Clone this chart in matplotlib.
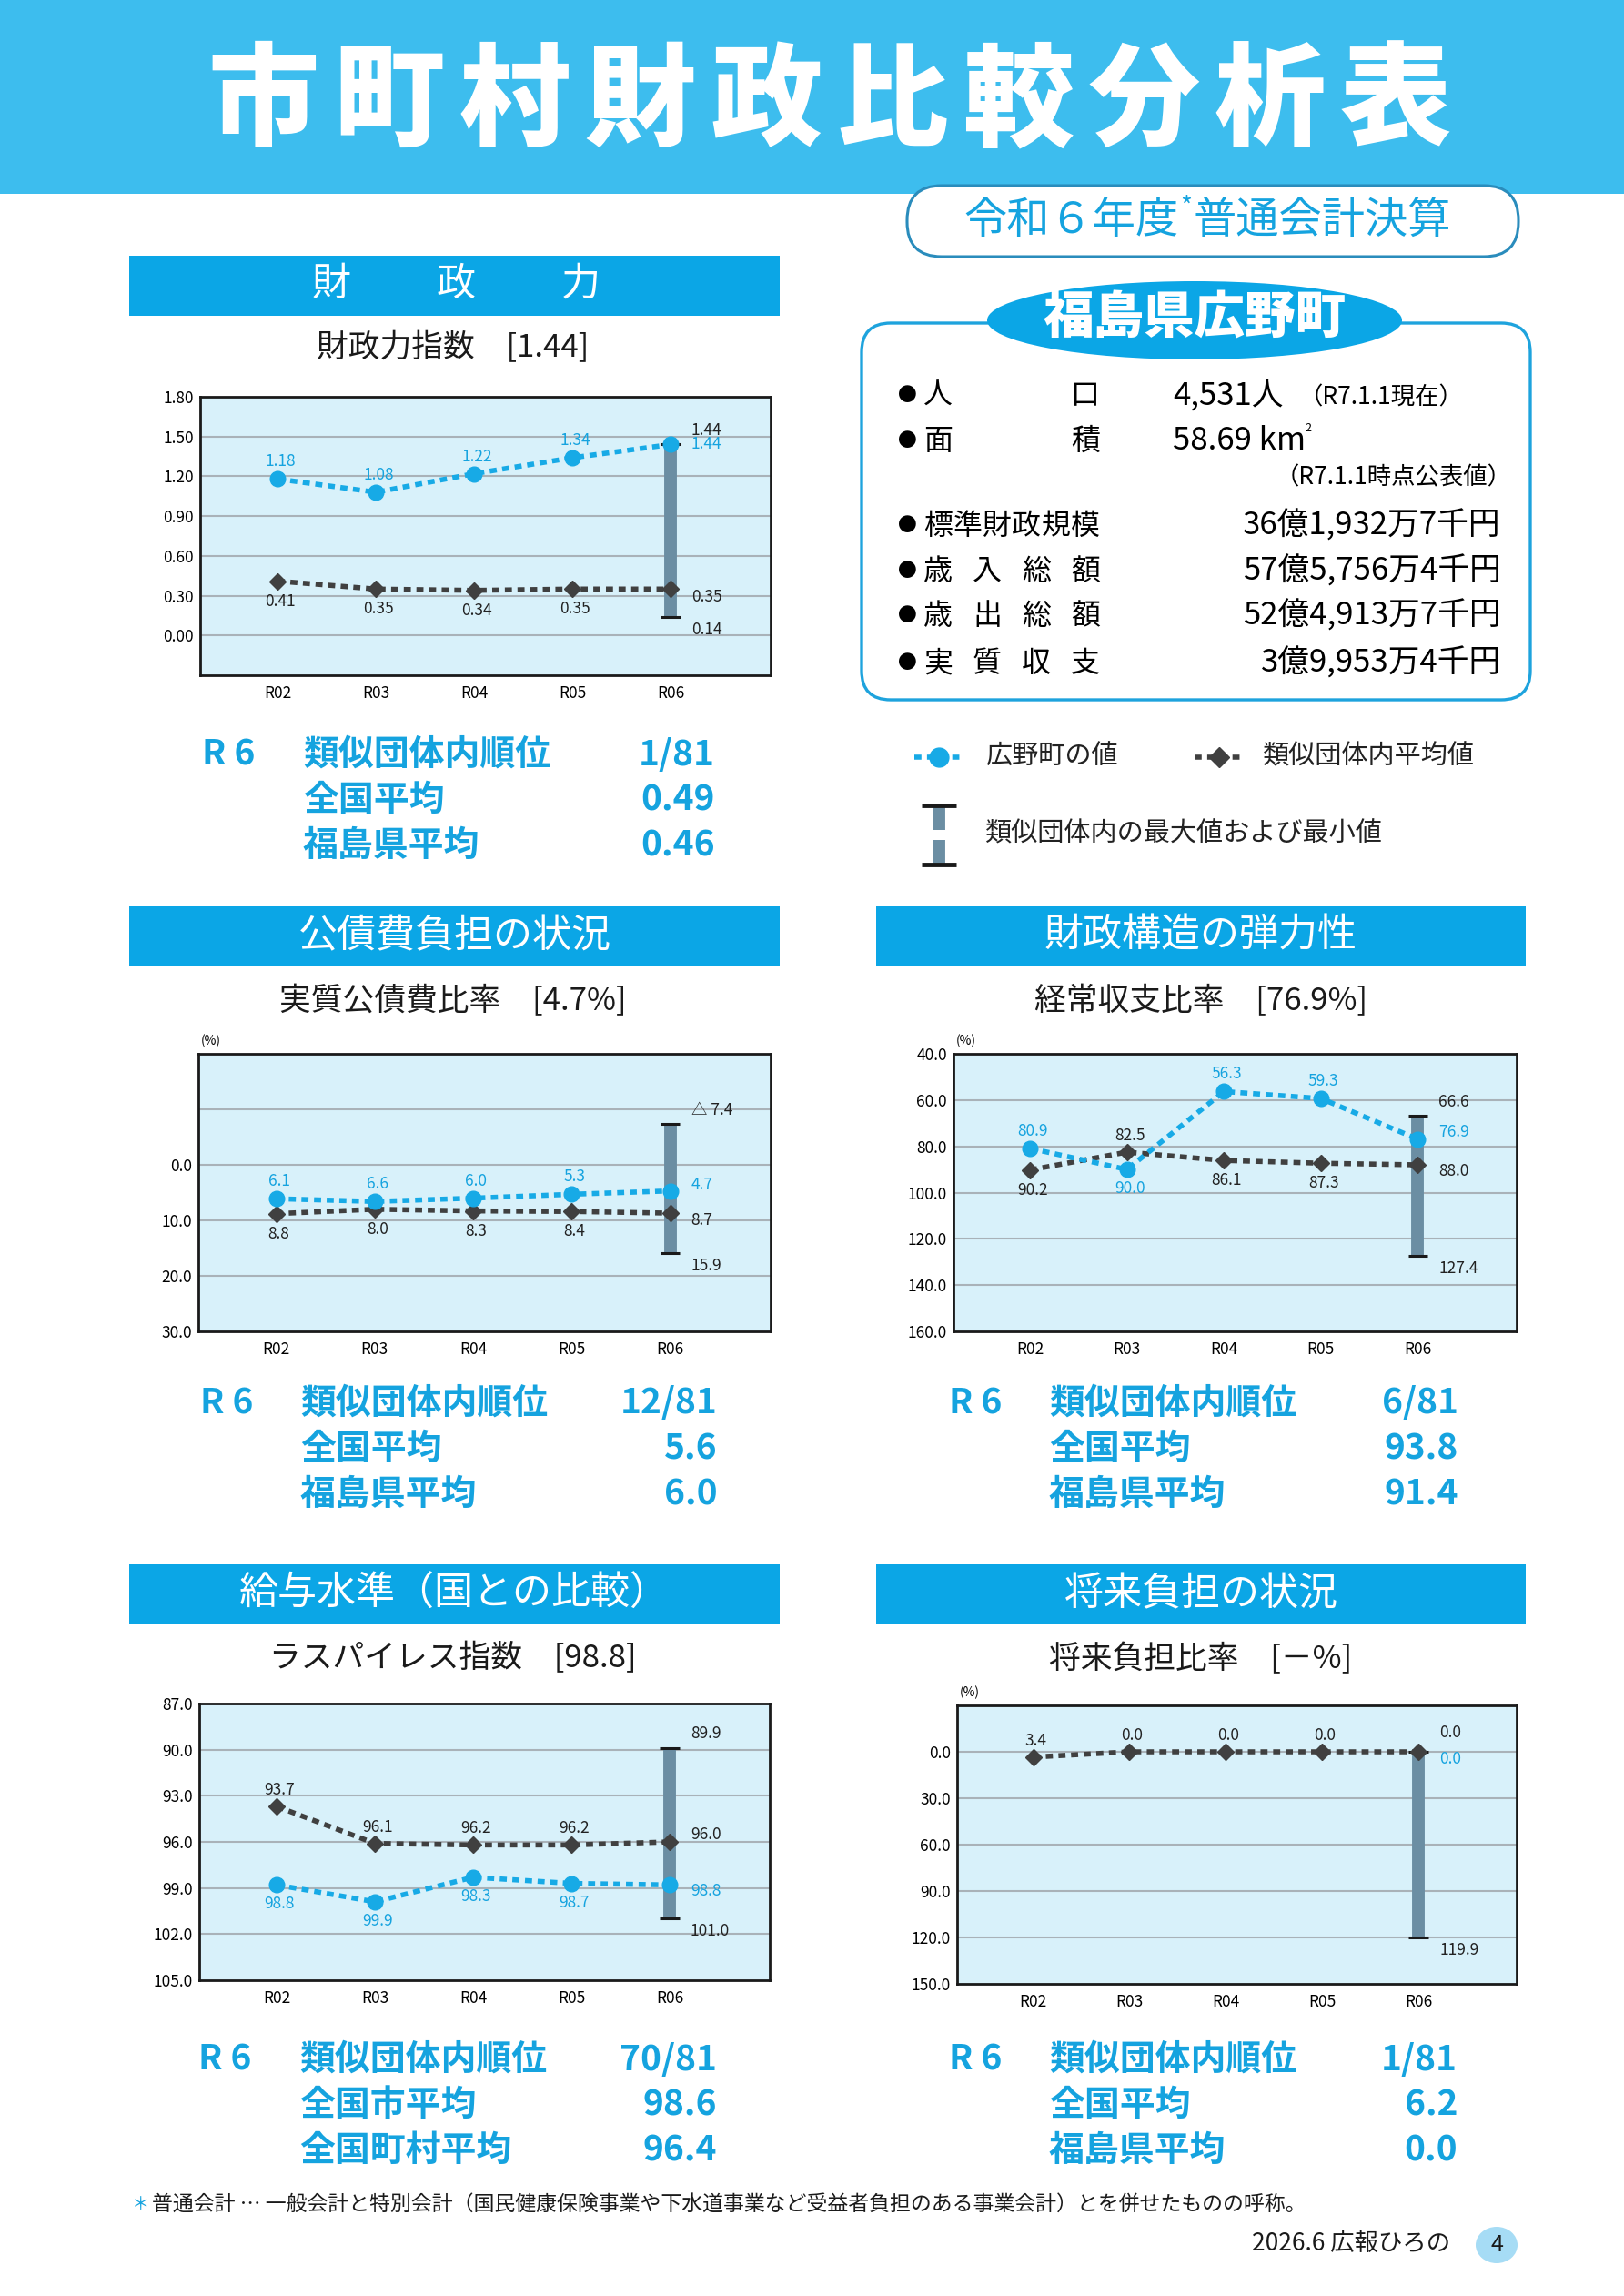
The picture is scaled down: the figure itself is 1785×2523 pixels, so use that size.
#!/usr/bin/env python

import numpy as np
import matplotlib
matplotlib.use('Agg')
from matplotlib import patches as mpatches
from matplotlib import pyplot as plt

plt.rcParams['font.family'] = ['Noto Sans CJK JP', 'DejaVu Sans']

W, H = 1785, 2523
PT = 72 / 100.0

BAND = '#3dbdee'
HEAD = '#0ba6e6'
BLUE = '#17aae6'
TBLUE = '#15a3df'
DARK = '#404040'
BAR = '#6b8ea3'
AXBG = '#d8f1fa'
GRID = '#a9b2b8'

years = ['R02', 'R03', 'R04', 'R05', 'R06']

# 財政力指数
fp_town = [1.18, 1.08, 1.22, 1.34, 1.44]
fp_avg = [0.41, 0.35, 0.34, 0.35, 0.35]
fp_range = [1.44, 0.14]

# 実質公債費比率
debt_town = [6.1, 6.6, 6.0, 5.3, 4.7]
debt_avg = [8.8, 8.0, 8.3, 8.4, 8.7]
debt_range = [-7.4, 15.9]

# 経常収支比率
cur_town = [80.9, 90.0, 56.3, 59.3, 76.9]
cur_avg = [90.2, 82.5, 86.1, 87.3, 88.0]
cur_range = [66.6, 127.4]

# ラスパイレス指数
las_town = [98.8, 99.9, 98.3, 98.7, 98.8]
las_avg = [93.7, 96.1, 96.2, 96.2, 96.0]
las_range = [89.9, 101.0]

# 将来負担比率
fut_town = [None, None, None, None, 0.0]
fut_avg = [3.4, 0.0, 0.0, 0.0, 0.0]
fut_range = [0.0, 119.9]

rank_fp = [('類似団体内順位', '1/81'), ('全国平均', '0.49'), ('福島県平均', '0.46')]
rank_debt = [('類似団体内順位', '12/81'), ('全国平均', '5.6'), ('福島県平均', '6.0')]
rank_cur = [('類似団体内順位', '6/81'), ('全国平均', '93.8'), ('福島県平均', '91.4')]
rank_las = [('類似団体内順位', '70/81'), ('全国市平均', '98.6'), ('全国町村平均', '96.4')]
rank_fut = [('類似団体内順位', '1/81'), ('全国平均', '6.2'), ('福島県平均', '0.0')]

population = '4,531人'
area = '58.69'
info_labels = ['標準財政規模', '歳入総額', '歳出総額', '実質収支']
info_values = ['36億1,932万7千円', '57億5,756万4千円', '52億4,913万7千円', '3億9,953万4千円']

fig = plt.figure(figsize=(W / 100, H / 100), dpi=100)
ov = fig.add_axes([0, 0, 1, 1])
ov.set_xlim(0, W)
ov.set_ylim(H, 0)
ov.axis('off')


def Spread(text, xl, xr, y, size, **kw):
    cw = size / PT
    n = len(text)
    xs = np.linspace(xl + cw / 2, xr - cw / 2, n) if n > 1 else [xl + cw / 2]
    for ch, x in zip(text, xs):
        ov.text(x, y, ch, ha='center', va='center', fontsize=size, **kw)


def Fmt(v, nd):
    s = '{:.{}f}'.format(abs(v), nd)
    return '△ ' + s if v < 0 else s


def Label(ax, x, y, txt, color, dx, dy, ha='center'):
    ax.annotate(txt, (x, y), xytext=(dx * PT, -dy * PT), textcoords='offset points',
                ha=ha, va='center', color=color, fontsize=12.5,
                annotation_clip=False, zorder=7)


def Header(x0, y0, x1, y1, text):
    ov.add_patch(mpatches.Rectangle((x0, y0), x1 - x0, y1 - y0, color=HEAD, lw=0))
    if text is not None:
        ov.text((x0 + x1) / 2, (y0 + y1) / 2, text, ha='center', va='center',
                fontsize=31, color='white')


def DrawChart(rect, town, avg, rng, ylim, ticks, grid, nd, sides, last_dy, pct=False):
    x0, y0, x1, y1 = rect
    ax = fig.add_axes([x0 / W, 1 - y1 / H, (x1 - x0) / W, (y1 - y0) / H])
    ax.set_facecolor(AXBG)
    xs = np.arange(len(years))
    town_a = np.array([np.nan if v is None else v for v in town], dtype=float)
    avg_a = np.array(avg, dtype=float)
    for g in grid:
        ax.axhline(g, color=GRID, lw=1.5, zorder=1)
    ax.vlines(xs[-1], rng[0], rng[1], color=BAR, lw=10, zorder=2)
    ax.hlines(rng, xs[-1] - 0.1, xs[-1] + 0.1, color='#1a1a1a', lw=2.2, zorder=2)
    dots = (0, (1.4, 1.1))
    ax.plot(xs, avg_a, color=DARK, lw=4, ls=dots, marker='D', ms=9.5, zorder=4)
    if np.isfinite(town_a).sum() > 1:
        ax.plot(xs, town_a, color=BLUE, lw=4, ls=dots, marker='o', ms=12, zorder=5)
    for i in range(len(years) - 1):
        up = sides[i] > 0
        if np.isfinite(town_a[i]):
            Label(ax, xs[i], town_a[i], Fmt(town_a[i], nd), TBLUE, 3, -19 if up else 21)
        Label(ax, xs[i], avg_a[i], Fmt(avg_a[i], nd), '#222222', 3, 22 if up else -18)
    k = xs[-1]
    items = [(rng[0], '#222222', last_dy[0]), (town_a[-1], TBLUE, last_dy[1]),
             (avg_a[-1], '#222222', last_dy[2]), (rng[1], '#222222', last_dy[3])]
    for v, c, dy in items:
        if dy is not None and np.isfinite(v):
            Label(ax, k, v, Fmt(v, nd), c, 23, dy, ha='left')
    ax.set_xlim(-0.79, 5.02)
    ax.set_ylim(*ylim)
    ax.set_yticks(ticks)
    ax.set_yticklabels(['{:.{}f}'.format(t, 2 if nd == 2 else 1) for t in ticks])
    ax.set_xticks(xs)
    ax.set_xticklabels(years)
    ax.tick_params(axis='y', length=0, labelsize=12.5, pad=5)
    ax.tick_params(axis='x', length=0, labelsize=12.5, pad=8)
    for sp in ax.spines.values():
        sp.set_linewidth(2)
        sp.set_color('#1a1a1a')
    if pct:
        ov.text(x0 + 3, y0 - 14, '(%)', ha='left', va='center', fontsize=10)
    return ax


def RankBlock(xr6, xlab, xval, y0, rows):
    kw = dict(fontsize=28, fontweight='bold', color=TBLUE, va='center')
    ov.text(xr6, y0, 'R 6', ha='left', **kw)
    for i, (lab, val) in enumerate(rows):
        y = y0 + 50 * i
        ov.text(xlab, y, lab, ha='left', **kw)
        ov.text(xval, y, val, ha='right', **kw)


# top band and title
ov.add_patch(mpatches.Rectangle((0, 0), W, 213, color=BAND, lw=0))
Spread('市町村財政比較分析表', 228, 1595, 114, 88, color='white', fontweight=900)

ov.add_patch(mpatches.FancyBboxPatch((997, 204), 672, 78,
                                     boxstyle='round,pad=0,rounding_size=38',
                                     fc='white', ec='#2a8cbc', lw=2.2))
ov.text(1296, 243, '令和６年度', ha='right', va='center', fontsize=34, color=TBLUE)
ov.text(1304, 229, '*', ha='center', va='center', fontsize=20, color=TBLUE)
ov.text(1312, 243, '普通会計決算', ha='left', va='center', fontsize=34, color=TBLUE)

# info box
ov.add_patch(mpatches.FancyBboxPatch((947, 355), 735, 414,
                                     boxstyle='round,pad=0,rounding_size=32',
                                     fc='none', ec='#1ea3dd', lw=2.4))
ov.add_patch(mpatches.Ellipse((1313, 352), 456, 86, color=HEAD, lw=0))
ov.text(1313, 350, '福島県広野町', ha='center', va='center', fontsize=40,
        fontweight=900, color='white')

rows_y = [435, 485, 578, 628, 677, 729]
for y in rows_y:
    ov.text(997, y, '●', ha='center', va='center', fontsize=15)
Spread('人口', 1015, 1209, 435, 23)
Spread('面積', 1015, 1209, 485, 23)
ov.text(1289, 435, population, ha='left', va='center', fontsize=25)
ov.text(1428, 437, '（R7.1.1現在）', ha='left', va='center', fontsize=19)
ov.text(1289, 485, area + ' km', ha='left', va='center', fontsize=25)
ov.text(1438, 471, '2', ha='center', va='center', fontsize=9)
ov.text(1662, 525, '（R7.1.1時点公表値）', ha='right', va='center', fontsize=19)
for lab, val, y in zip(info_labels, info_values, rows_y[2:]):
    Spread(lab, 1015, 1209, y, 23)
    ov.text(1650, y, val, ha='right', va='center', fontsize=25)

# legend
ov.plot([1005, 1059], [832, 832], color=BLUE, lw=4, ls=(0, (1.4, 1.1)))
ov.plot([1032], [832], color=BLUE, marker='o', ms=15)
ov.text(1083, 832, '広野町の値', ha='left', va='center', fontsize=21, color='#222222')
ov.plot([1313, 1367], [832, 832], color=DARK, lw=4, ls=(0, (1.4, 1.1)))
ov.plot([1340], [832], color=DARK, marker='D', ms=11)
ov.text(1388, 832, '類似団体内平均値', ha='left', va='center', fontsize=21, color='#222222')
ov.vlines(1032, 885, 912, color=BAR, lw=10)
ov.vlines(1032, 923, 950, color=BAR, lw=10)
ov.hlines([885, 950], 1013, 1051, color='#1a1a1a', lw=3.5)
ov.text(1083, 917, '類似団体内の最大値および最小値', ha='left', va='center',
        fontsize=21, color='#222222')

# section headers
Header(142, 281, 857, 347, None)
for ch, x in zip('財政力', [364, 501, 638]):
    ov.text(x, 313, ch, ha='center', va='center', fontsize=31, color='white')
Header(142, 996, 857, 1062, '公債費負担の状況')
Header(963, 996, 1677, 1062, '財政構造の弾力性')
Header(142, 1719, 857, 1785, '給与水準（国との比較）')
Header(963, 1719, 1677, 1785, '将来負担の状況')

sub_kw = dict(ha='center', va='center', fontsize=25, color='#1a1a1a')
ov.text(498, 383, '財政力指数　[1.44]', **sub_kw)
ov.text(498, 1101, '実質公債費比率　[4.7%]', **sub_kw)
ov.text(1320, 1101, '経常収支比率　[76.9%]', **sub_kw)
ov.text(498, 1823, 'ラスパイレス指数　[98.8]', **sub_kw)
ov.text(1320, 1823, '将来負担比率　[－%]', **sub_kw)

# charts
DrawChart((220, 436, 847, 742), fp_town, fp_avg, fp_range, (-0.3, 1.8),
          [0, 0.3, 0.6, 0.9, 1.2, 1.5, 1.8], [0, 0.3, 0.6, 0.9, 1.2, 1.5], 2,
          [1, 1, 1, 1], [-15, 0, 9, 14])
DrawChart((218, 1158, 847, 1463), debt_town, debt_avg, debt_range, (30, -20),
          [0, 10, 20, 30], [-10, 0, 10, 20], 1,
          [1, 1, 1, 1], [-15, -7, 8, 14], pct=True)
DrawChart((1048, 1158, 1667, 1463), cur_town, cur_avg, cur_range, (160, 40),
          [40, 60, 80, 100, 120, 140, 160], [60, 80, 100, 120, 140], 1,
          [1, -1, 1, 1], [-15, -8, 7, 14], pct=True)
DrawChart((219, 1872, 846, 2176), las_town, las_avg, las_range, (105, 87),
          [87, 90, 93, 96, 99, 102, 105], [90, 93, 96, 99, 102], 1,
          [-1, -1, -1, -1], [-16, 7, -8, 14])
DrawChart((1052, 1874, 1667, 2180), fut_town, fut_avg, fut_range, (150, -30),
          [0, 30, 60, 90, 120, 150], [0, 30, 60, 90, 120], 1,
          [-1, -1, -1, -1], [-21, 8, None, 14], pct=True)

# rank blocks
RankBlock(222, 333, 786, 829, rank_fp)
RankBlock(220, 330, 789, 1542, rank_debt)
RankBlock(1043, 1153, 1603, 1542, rank_cur)
RankBlock(218, 329, 788, 2263, rank_las)
RankBlock(1043, 1153, 1602, 2263, rank_fut)

# footnote and footer
ov.text(145, 2422, '＊', ha='left', va='center', fontsize=14, color=TBLUE)
ov.text(167, 2422, '普通会計 … 一般会計と特別会計（国民健康保険事業や下水道事業など受益者負担のある事業会計）とを併せたものの呼称。',
        ha='left', va='center', fontsize=16.5, color='#1a1a1a')
ov.text(1594, 2465, '2026.6 広報ひろの', ha='right', va='center', fontsize=19, color='#1a1a1a')
ov.add_patch(mpatches.Ellipse((1645, 2467), 46, 40, color='#a6dcf5', lw=0))
ov.text(1645, 2467, '4', ha='center', va='center', fontsize=18, color='#1a1a1a')

plt.savefig('out.png', dpi=100)
